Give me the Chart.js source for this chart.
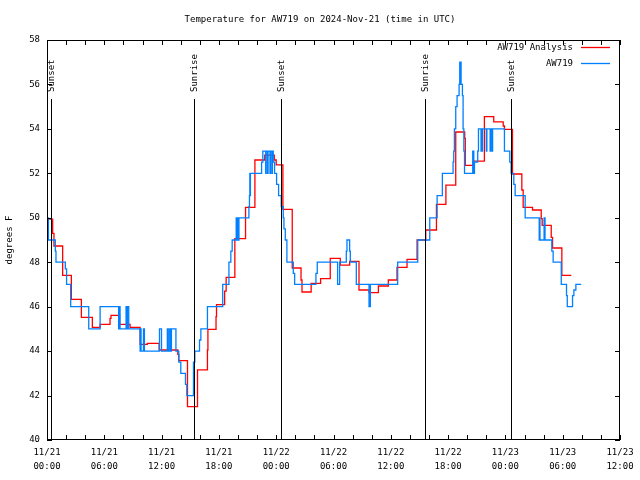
<!DOCTYPE html>
<html><head><meta charset="utf-8">
<script src="https://cdn.jsdelivr.net/npm/chart.js@4.4.1/dist/chart.umd.min.js"></script>
<style>html,body{margin:0;padding:0;background:#fff}</style>
</head><body>
<canvas id="c" width="640" height="480"></canvas>
<script>
// ---- data (hours since 2024-11-21 00:00 UTC) ----
const chartTitle = "Temperature for AW719 on 2024-Nov-21 (time in UTC)";
const yAxisTitle = "degrees F";
const seriesNames = ["AW719 Analysis", "AW719"];
const xTickValues = [0, 6, 12, 18, 24, 30, 36, 42, 48, 54, 60];
const xTickLabels = [["11/21","00:00"],["11/21","06:00"],["11/21","12:00"],["11/21","18:00"],
  ["11/22","00:00"],["11/22","06:00"],["11/22","12:00"],["11/22","18:00"],
  ["11/23","00:00"],["11/23","06:00"],["11/23","12:00"]];
const sunEventHours = [0.45, 15.44, 24.46, 39.55, 48.6];
const sunEventLabels = ["Sunset", "Sunrise", "Sunset", "Sunrise", "Sunset"];

const analysisHours = [0,0.59,0.73,1.64,2.55,3.6,4.75,5.56,6.6,6.7,7.6,8.7,9.75,10.5,11.74,13.7,13.8,14.71,15.76,16.8,
  16.85,17.7,17.75,18.6,18.76,19.67,20.79,21.77,22.8,23.8,24.0,24.7,25.68,26.6,26.7,27.66,28.65,29.66,30.71,31.69,
  32.67,33.72,34.7,35.74,36.65,37.7,38.75,39.66,40.78,41.77,42.8,43.74,43.8,44.62,45.8,46.78,47.77,47.9,48.74,49.72,
  49.86,50.84,51.75,51.85,52.8,52.94,53.91,54.9];
const analysisTemps = [49.94,49.3,48.73,47.41,46.33,45.52,45.07,45.2,45.47,45.61,45.2,45.07,44.3,44.35,44.05,43.85,43.57,41.5,43.16,44.05,
  44.98,45.55,46.09,46.7,47.32,49.06,50.47,52.6,52.82,52.6,52.38,50.38,47.74,47.2,46.66,47.05,47.26,48.17,47.87,48.04,
  46.75,46.63,46.93,47.2,47.77,48.13,49.0,49.45,50.6,51.47,53.86,53.57,52.36,52.55,54.55,54.32,54.13,53.98,51.97,51.25,
  50.47,50.35,49.96,49.66,49.12,48.64,47.41,47.41];

const obsHours = [0,0.15,0.87,0.94,1.92,2.05,2.48,4.37,5.56,7.5,7.55,7.65,8.28,8.35,8.42,8.56,9.75,9.8,9.85,10.1,
  10.2,11.78,11.99,12.6,12.7,12.85,12.95,13.03,13.5,13.8,14.01,14.5,14.64,15.34,15.38,15.42,15.48,15.97,16.11,16.8,
  18.4,19.05,19.25,19.39,19.81,19.9,19.95,20.05,20.1,21.14,21.2,21.24,21.26,21.3,22.47,22.6,22.9,22.95,23.1,23.15,
  23.35,23.4,23.55,23.6,23.69,23.83,24.04,24.25,24.53,24.74,24.81,24.95,25.12,25.79,25.93,28.16,28.3,30.43,30.64,31.34,
  31.41,31.69,31.76,32.39,33.72,33.86,36.72,38.82,40.08,40.85,41.4,42.52,42.59,42.66,42.8,42.94,43.15,43.22,43.29,43.31,
  43.36,43.5,43.57,43.65,43.72,44.58,44.69,44.76,45.1,45.18,45.45,45.5,45.55,45.6,46.0,46.06,46.4,46.46,46.6,46.66,
  47.9,48.46,48.6,48.88,49.02,50.07,51.54,51.58,51.62,52.05,52.15,52.86,53.0,53.85,54.4,54.48,55.03,55.17,55.38,55.94];
const obsTemps = [50,49,48.5,48,47.7,47,46,45,46,45,46,45,46,45,46,45,44,45,44,45,
  44,45,44,45,44,45,44,45,44,43.5,43,42.5,42,43.5,42,43.5,44,44.5,45,46,
  47,48,48.5,49,50,49,50,49,50,50.5,51,52,51,52,52.5,53,52,53,52,53,
  52,53,52,53,52.5,52,51.5,51,50.5,50,49.5,49,48,47.5,47,47.5,48,47,48,48.5,
  49,48.5,48,47,46,47,48,49,50,51,52,52.5,53,54,55,55.5,56,57,56,57,
  56,55.5,54,53,52,53,52,52.5,53,54,53,54,53,54,53,54,53,54,53,54,
  53,52.5,52,51.5,51,50,49,50,49,50,49,48.5,48,47,46.5,46,46.5,46.75,47,47];

// ---- styling ----
const FONT = '"DejaVu Sans Mono", "Liberation Mono", monospace';
const RED = '#ff0000';
const BLUE = '#0080ff';

const decor = {
  id: 'decor',
  afterDraw(chart) {
    const ctx = chart.ctx, a = chart.chartArea;
    const xs = chart.scales.x, ys = chart.scales.y;
    ctx.save();
    ctx.strokeStyle = '#000';
    ctx.lineWidth = 1;
    // border box
    ctx.strokeRect(Math.round(a.left) + 0.5, Math.round(a.top) + 0.5,
      Math.round(a.right - a.left) - 1, Math.round(a.bottom - a.top) - 1);
    ctx.beginPath();
    // y ticks (both sides, inward)
    for (let v = ys.min; v <= ys.max; v += 2) {
      const py = Math.round(ys.getPixelForValue(v)) + 0.5;
      ctx.moveTo(a.left, py); ctx.lineTo(a.left + 5, py);
      ctx.moveTo(a.right, py); ctx.lineTo(a.right - 5, py);
    }
    // x ticks every 2 h (bottom and top, inward)
    for (let h = xs.min; h <= xs.max; h += 2) {
      const px = Math.round(xs.getPixelForValue(h)) + 0.5;
      ctx.moveTo(px, a.bottom); ctx.lineTo(px, a.bottom - 5);
      ctx.moveTo(px, a.top); ctx.lineTo(px, a.top + 5);
    }
    ctx.stroke();
    // sunrise / sunset markers
    ctx.font = '9px ' + FONT;
    ctx.fillStyle = '#000';
    sunEventHours.forEach((h, i) => {
      const px = Math.round(xs.getPixelForValue(h)) + 0.5;
      ctx.beginPath();
      ctx.moveTo(px, a.top + 59); ctx.lineTo(px, a.bottom);
      ctx.stroke();
      ctx.save();
      ctx.translate(px, a.top + 52);
      ctx.rotate(-Math.PI / 2);
      ctx.textAlign = 'left';
      ctx.textBaseline = 'middle';
      ctx.fillText(sunEventLabels[i], 0, 0);
      ctx.restore();
    });
    // legend
    ctx.textAlign = 'right';
    ctx.textBaseline = 'middle';
    const legendColors = [RED, BLUE];
    seriesNames.forEach((name, i) => {
      const yy = a.top + 7.5 + i * 16;
      ctx.fillStyle = '#000';
      ctx.fillText(name, a.right - 47, yy);
      ctx.strokeStyle = legendColors[i];
      ctx.lineWidth = 1.3;
      ctx.beginPath();
      ctx.moveTo(a.right - 39, yy); ctx.lineTo(a.right - 10, yy);
      ctx.stroke();
    });
    // title
    ctx.fillStyle = '#000';
    ctx.textAlign = 'center';
    ctx.fillText(chartTitle, chart.width / 2, 20);
    ctx.restore();
  }
};

new Chart(document.getElementById('c'), {
  type: 'line',
  data: {
    datasets: [
      { label: seriesNames[1], data: obsHours.map((h, i) => ({ x: h, y: obsTemps[i] })),
        borderColor: BLUE, borderWidth: 1.3, pointRadius: 0, stepped: true, fill: false, order: 0 },
      { label: seriesNames[0], data: analysisHours.map((h, i) => ({ x: h, y: analysisTemps[i] })),
        borderColor: RED, borderWidth: 1.3, pointRadius: 0, stepped: true, fill: false, order: 1 }
    ]
  },
  options: {
    responsive: false, animation: false, devicePixelRatio: 1,
    layout: { padding: { top: 40, right: 20, left: 0, bottom: 0 } },
    plugins: { legend: { display: false }, tooltip: { enabled: false }, title: { display: false } },
    scales: {
      x: {
        type: 'linear', min: 0, max: 60,
        afterBuildTicks(s) { s.ticks = xTickValues.map(v => ({ value: v })); },
        afterFit(s) { s.height = 40; },
        grid: { display: false, drawTicks: false }, border: { display: false },
        ticks: { autoSkip: false, maxRotation: 0, minRotation: 0, padding: 6, color: '#000',
          font: { family: FONT, size: 9, lineHeight: '14px' },
          callback: (v, i) => xTickLabels[i] }
      },
      y: {
        min: 40, max: 58,
        afterFit(s) { s.width = 47; },
        grid: { display: false, drawTicks: false }, border: { display: false },
        ticks: { stepSize: 2, padding: 7, color: '#000', font: { family: FONT, size: 9 } },
        title: { display: true, text: yAxisTitle, color: '#000',
          font: { family: FONT, size: 9 }, padding: { top: 4, bottom: 0 } }
      }
    }
  },
  plugins: [decor]
});
</script>
</body></html>
